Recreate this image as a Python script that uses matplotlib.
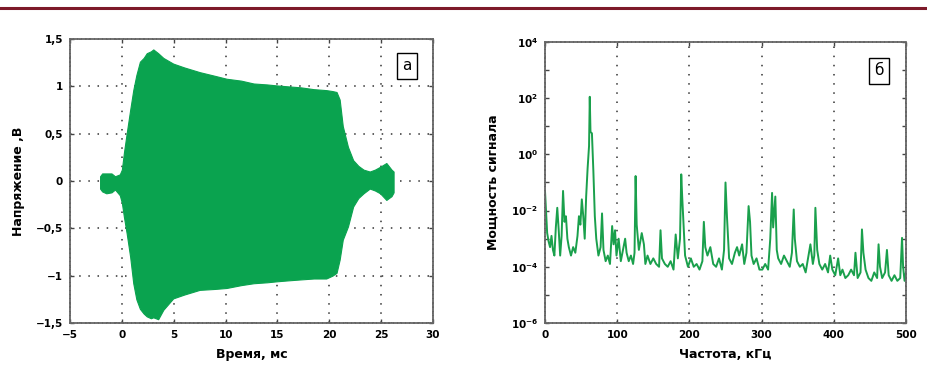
import matplotlib
matplotlib.use("Agg")
import matplotlib.pyplot as plt
from matplotlib.lines import Line2D
import numpy as np

# ---- Panel a: waveform envelope (time ms, upper V, lower V)
t_env = [-2.1, -1.9, -1.5, -1.0, -0.66, -0.2, 0.0, 0.2, 0.46, 0.8, 1.1, 1.4, 1.74, 2.1, 2.4, 2.8, 3.03, 3.5, 4.0, 4.95, 6.0, 7.5, 9.0, 10.1,
         11.5, 12.7, 14.0, 14.9, 16.0, 17.2, 18.5, 19.7, 20.3, 20.7, 21.0, 21.3, 21.8, 22.3, 22.8, 23.3, 23.9, 24.4, 24.9, 25.5, 26.0, 26.2]
v_top = [0.05, 0.08, 0.08, 0.08, 0.05, 0.07, 0.12, 0.3, 0.5, 0.75, 0.96, 1.12, 1.26, 1.3, 1.35, 1.37, 1.39, 1.35, 1.3, 1.24, 1.2, 1.15, 1.11, 1.08,
         1.06, 1.03, 1.02, 1.01, 1.0, 0.99, 0.97, 0.96, 0.95, 0.94, 0.86, 0.58, 0.36, 0.22, 0.16, 0.12, 0.10, 0.12, 0.15, 0.19, 0.12, 0.10]
v_bot = [-0.08, -0.11, -0.13, -0.12, -0.09, -0.15, -0.23, -0.38, -0.55, -0.8, -1.08, -1.25, -1.35, -1.4, -1.43, -1.45, -1.44, -1.46, -1.36, -1.24, -1.2, -1.15, -1.14, -1.13,
         -1.1, -1.08, -1.07, -1.06, -1.05, -1.04, -1.03, -1.03, -1.0, -0.97, -0.83, -0.62, -0.48, -0.27, -0.18, -0.13, -0.08, -0.1, -0.13, -0.2, -0.16, -0.12]

# ---- Panel b: spectrum (freq kHz, log10 power)
f_spec = [0, 1, 3, 5, 7, 9, 11, 13, 15, 17, 19, 21, 23, 25, 27, 29, 31, 33, 36, 39, 42, 45, 47, 49, 51, 53, 55, 57, 59,
          61, 62, 63, 65, 67, 69, 71, 74, 77, 79, 81, 84, 87, 90, 93, 95, 97, 99, 102, 105, 108, 111, 113, 116, 119, 122,
          124, 125.5, 127, 130, 134, 137, 139, 142, 146, 150, 154, 158, 160, 162, 166, 170, 174, 178, 181, 184, 187, 188.7,
          190, 194, 198, 202, 206, 210, 214, 218, 220, 222, 225, 229, 233, 237, 241, 245, 248, 250, 252, 255, 259, 263, 266,
          269, 273, 276, 279, 282, 284, 286, 289, 293, 297, 301, 305, 309, 312, 314.5, 316, 319, 321, 323, 327, 331, 335,
          339, 342, 344.5, 346, 349, 353, 357, 361, 365, 367.6, 371, 373, 374.5, 377, 380, 384, 388, 392, 395, 398, 402,
          406, 409, 412, 416, 420, 424, 428, 430, 433, 437, 439, 441, 444, 448, 452, 456, 460, 462, 464, 467, 471, 473.6,
          476, 480, 484, 488, 492, 494.5, 496, 498, 500]
p_spec = [-1.3, -1.8, -2.8, -3.1, -3.3, -2.9, -3.4, -3.6, -2.6, -1.9, -2.7, -3.6, -2.9, -1.3, -2.4, -2.2, -3.0, -3.3, -3.6, -3.3, -3.5, -2.9, -2.2, -2.5, -1.6, -2.2, -3.0, -1.5, -0.5,
          0.3, 2.05, 0.8, 0.75, -0.6, -2.2, -3.0, -3.6, -3.3, -2.1, -3.4, -3.8, -3.6, -3.9, -2.55, -3.2, -2.7, -3.6, -3.0, -3.8, -3.4, -3.0, -3.5, -3.8, -3.6, -3.9,
          -3.5, -0.77, -2.5, -3.4, -2.8, -3.2, -3.9, -3.6, -3.9, -3.7, -3.9, -4.0, -2.7, -3.7, -3.9, -4.0, -3.8, -4.1, -2.85, -3.7, -3.0, -0.71,
          -1.5, -3.6, -4.0, -3.7, -4.0, -3.9, -4.1, -3.8, -2.4, -3.3, -3.6, -3.3, -3.9, -4.0, -3.7, -4.1, -3.4, -1.0, -2.2, -3.7, -3.9, -3.5, -3.3,
          -3.6, -3.2, -3.9, -3.5, -1.84, -2.4, -3.6, -3.9, -3.7, -4.1, -4.1, -3.9, -4.1, -3.0, -1.37, -2.6, -1.5, -3.4, -3.7, -3.9, -3.6, -3.8,
          -4.0, -3.5, -1.96, -3.0, -3.8, -4.0, -3.9, -4.2, -3.6, -3.2, -3.9, -3.6, -1.9, -3.4, -3.9, -4.1, -3.9, -4.2, -3.6, -4.1, -4.3,
          -3.7, -4.3, -4.1, -4.4, -4.3, -4.1, -4.3, -3.5, -4.4, -4.2, -2.67, -3.5, -4.1, -4.4, -4.5, -4.2, -4.4, -3.2, -4.0, -4.4, -4.2, -3.4,
          -4.3, -4.5, -4.3, -4.5, -4.4, -2.97, -4.0, -4.5, -4.2]

x_ticks_a = [-5, 0, 5, 10, 15, 20, 25, 30]
x_labels_a = ["\u22125", "0", "5", "10", "15", "20", "25", "30"]
y_ticks_a = [-1.5, -1.0, -0.5, 0.0, 0.5, 1.0, 1.5]
y_labels_a = ["\u22121,5", "\u22121", "\u22120,5", "0", "0,5", "1", "1,5"]
x_ticks_b = [0, 100, 200, 300, 400, 500]
y_exp_b = [-6, -4, -2, 0, 2, 4]

green_fill = "#0aa34f"
green_line = "#1aa04c"
frame_col = "#666666"

fig = plt.figure(figsize=(9.28, 3.72), dpi=100)
fig.add_artist(Line2D([0, 1], [1 - 7.5 / 372, 1 - 7.5 / 372], color="#7d1a2a", lw=2.2))

def style(ax):
    for s in ax.spines.values():
        s.set_color(frame_col)
        s.set_linewidth(1.3)
        s.set_linestyle((0, (1.5, 0.8)))
    ax.tick_params(direction="in", length=3, width=1, color="#444444", top=True, right=True,
                   labelsize=7.5, pad=5)
    for lab in ax.get_xticklabels() + ax.get_yticklabels():
        lab.set_fontweight("bold")

# Panel a
ax1 = fig.add_axes([70 / 928, 49 / 372, 363 / 928, 284 / 372])
ax1.fill_between(t_env, v_bot, v_top, color=green_fill, lw=0.8, edgecolor=green_fill, zorder=2)
ax1.set_xlim(-5, 30)
ax1.set_ylim(-1.5, 1.5)
ax1.set_xticks(x_ticks_a, x_labels_a)
ax1.set_yticks(y_ticks_a, y_labels_a)
ax1.grid(True, color="#333333", linestyle=(0, (1, 5)), linewidth=1.1, zorder=1)
ax1.set_axisbelow(True)
style(ax1)
ax1.set_xlabel("Время, мс", fontsize=9, fontweight="bold", labelpad=6)
ax1.set_ylabel("Напряжение ,В", fontsize=9, fontweight="bold", labelpad=8)
ax1.text(0.929, 0.905, "а", transform=ax1.transAxes, fontsize=11, ha="center", va="center",
         bbox=dict(boxstyle="square,pad=0.35", fc="white", ec="black", lw=1.0), zorder=5)

# Panel b
ax2 = fig.add_axes([545 / 928, 49 / 372, 361 / 928, 281 / 372])
ax2.plot(f_spec, [10.0 ** p for p in p_spec], color=green_line, lw=1.4, zorder=2)
ax2.set_yscale("log")
ax2.set_xlim(0, 500)
ax2.set_ylim(1e-6, 1e4)
ax2.set_xticks(x_ticks_b, [str(v) for v in x_ticks_b])
ax2.set_yticks([10.0 ** e for e in y_exp_b], [r"$\mathbf{10^{%d}}$" % e for e in y_exp_b])
ax2.set_yticks([10.0 ** e for e in range(-5, 4, 2)], minor=True)
ax2.tick_params(which="minor", direction="in", length=3, width=1, color="#444444", right=True, labelleft=False)
ax2.grid(True, axis="x", color="#333333", linestyle=(0, (1, 5)), linewidth=1.1, zorder=1)
ax2.set_axisbelow(True)
style(ax2)
ax2.set_xlabel("Частота, кГц", fontsize=9, fontweight="bold", labelpad=6)
ax2.set_ylabel("Мощность сигнала", fontsize=9, fontweight="bold", labelpad=8)
ax2.text(0.925, 0.897, "б", transform=ax2.transAxes, fontsize=11, ha="center", va="center",
         bbox=dict(boxstyle="square,pad=0.35", fc="white", ec="black", lw=1.0), zorder=5)

fig.savefig("out.png", dpi=100)
